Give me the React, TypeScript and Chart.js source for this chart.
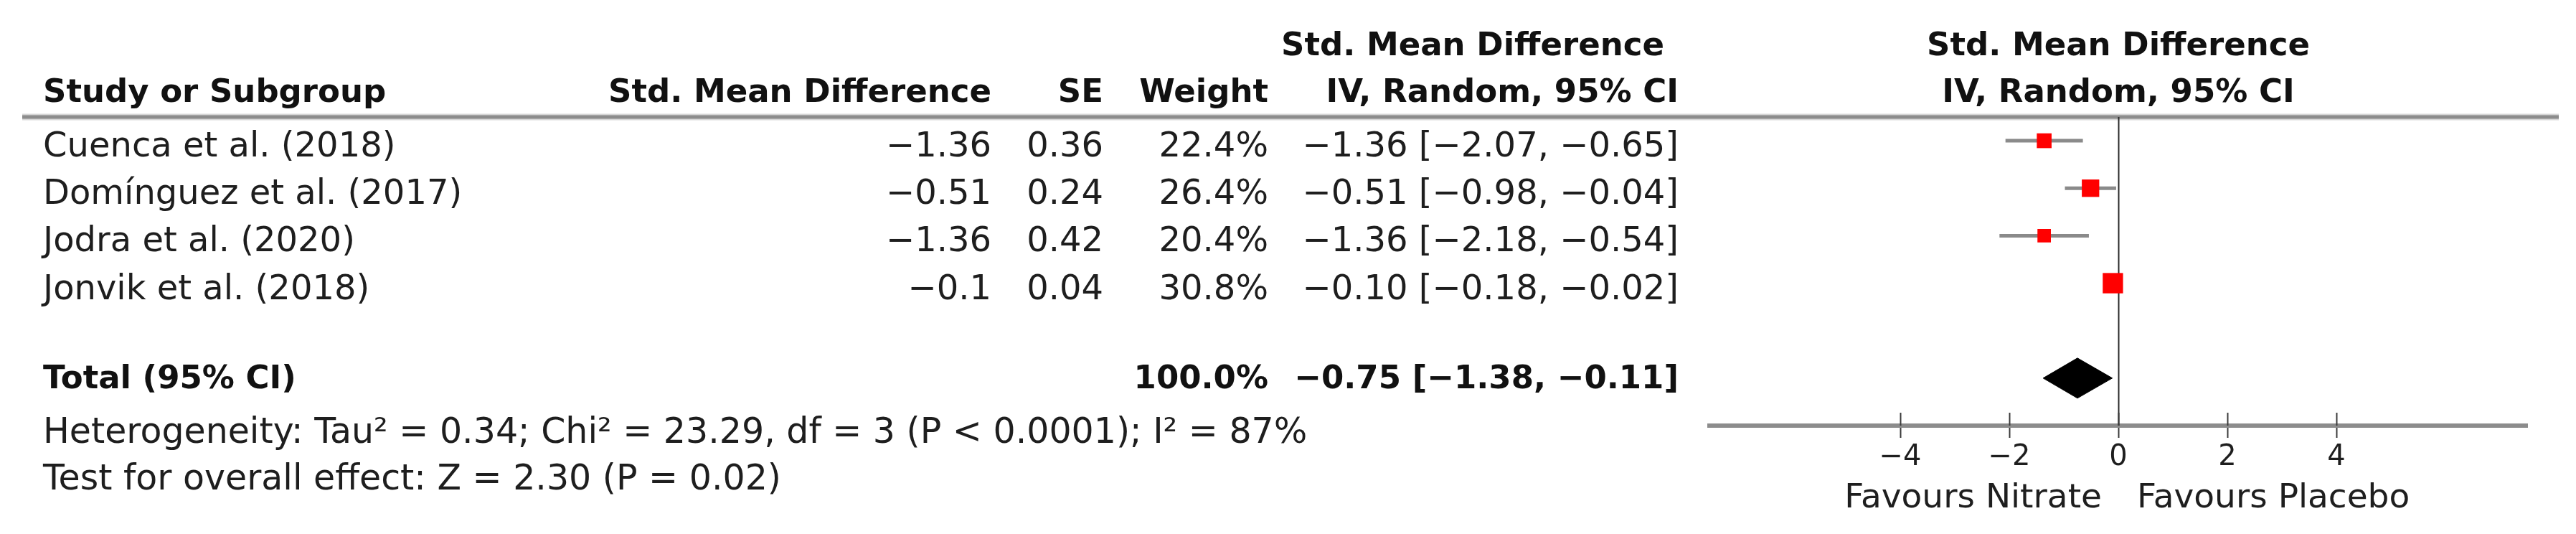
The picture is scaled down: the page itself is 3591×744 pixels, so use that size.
import { useEffect, useRef } from "react";
import { Chart, registerables } from "chart.js";

Chart.register(...registerables);

// ---------- data ----------
const studies = [
  "Cuenca et al. (2018)",
  "Domínguez et al. (2017)",
  "Jodra et al. (2020)",
  "Jonvik et al. (2018)",
];
const smd = [-1.36, -0.51, -1.36, -0.1];
const se = [0.36, 0.24, 0.42, 0.04];
const weights = [22.4, 26.4, 20.4, 30.8];
const ciLow = [-2.07, -0.98, -2.18, -0.18];
const ciHigh = [-0.65, -0.04, -0.54, -0.02];

const totalWeight = 100.0;
const totalEst = -0.75;
const totalLow = -1.38;
const totalHigh = -0.11;

const tau2 = "0.34";
const chi2 = "23.29";
const dfVal = "3";
const hetP = "< 0.0001";
const i2 = "87";
const zVal = "2.30";
const zP = "0.02";

const xTicks = [-4, -2, 0, 2, 4];
const xTickLabels = ["−4", "−2", "0", "2", "4"];

const leftLabel = "Favours Nitrate";
const rightLabel = "Favours Placebo";

// ---------- layout constants ----------
const W = 3575;
const H = 728;
const FONT = "'DejaVu Sans', Verdana, sans-serif";
const TOTAL_ROW = 5.5;
const DIAMOND_HALF = 0.423;

const num = (v: number, d?: number) =>
  (v < 0 ? "−" : "") + (d === undefined ? String(Math.abs(v)) : Math.abs(v).toFixed(d));

export default function App() {
  const ref = useRef<HTMLCanvasElement>(null);

  useEffect(() => {
    const canvas = ref.current;
    if (!canvas) return;

    const tablePlugin = {
      id: "forestTable",
      beforeDatasetsDraw(chart: any) {
        const { ctx, chartArea, scales } = chart;
        const x = scales.x;
        ctx.save();
        ctx.lineCap = "butt";
        // header rule
        ctx.strokeStyle = "#d6d6d6";
        ctx.lineWidth = 9;
        ctx.beginPath();
        ctx.moveTo(23, chartArea.top);
        ctx.lineTo(3559, chartArea.top);
        ctx.stroke();
        ctx.strokeStyle = "#8c8c8c";
        ctx.lineWidth = 5;
        ctx.beginPath();
        ctx.moveTo(23, chartArea.top);
        ctx.lineTo(3559, chartArea.top);
        ctx.stroke();
        // line of no effect
        const zx = Math.round(x.getPixelForValue(0)) + 0.5;
        ctx.strokeStyle = "#2a2a2a";
        ctx.lineWidth = 2;
        ctx.beginPath();
        ctx.moveTo(zx, chartArea.top);
        ctx.lineTo(zx, chartArea.bottom);
        ctx.stroke();
        ctx.restore();
      },
      afterDraw(chart: any) {
        const { ctx, chartArea, scales } = chart;
        const x = scales.x;
        const y = scales.y;
        ctx.save();
        // upper halves of tick marks
        ctx.strokeStyle = "#3a3a3a";
        ctx.lineWidth = 2;
        xTicks.forEach((v) => {
          const px = Math.round(x.getPixelForValue(v)) + 0.5;
          ctx.beginPath();
          ctx.moveTo(px, chartArea.bottom - 18);
          ctx.lineTo(px, chartArea.bottom);
          ctx.stroke();
        });

        const reg = `48px ${FONT}`;
        const foot = `49px ${FONT}`;
        const fav = `47px ${FONT}`;
        const bold = `bold 45px ${FONT}`;
        const put = (s: string, px: number, py: number, align: CanvasTextAlign, font: string, color = "#1e1e1e") => {
          ctx.font = font;
          ctx.textAlign = align;
          ctx.textBaseline = "alphabetic";
          ctx.fillStyle = color;
          ctx.fillText(s, px, py);
        };

        const zx = x.getPixelForValue(0);
        const L = 52;
        const cSMD = 1374;
        const cSE = 1530;
        const cW = 1760;
        const cCI = 2332;

        // headers
        put("Std. Mean Difference", 2312, 69, "right", bold, "#111");
        put("Std. Mean Difference", zx, 69, "center", bold, "#111");
        put("Study or Subgroup", L, 134, "left", bold, "#111");
        put("Std. Mean Difference", cSMD, 134, "right", bold, "#111");
        put("SE", cSE, 134, "right", bold, "#111");
        put("Weight", cW, 134, "right", bold, "#111");
        put("IV, Random, 95% CI", cCI, 134, "right", bold, "#111");
        put("IV, Random, 95% CI", zx, 134, "center", bold, "#111");

        // study rows
        studies.forEach((s, i) => {
          const by = y.getPixelForValue(i + 0.5) + 22;
          put(s, L, by, "left", reg);
          put(num(smd[i]), cSMD, by, "right", reg);
          put(num(se[i], 2), cSE, by, "right", reg);
          put(weights[i].toFixed(1) + "%", cW, by, "right", reg);
          put(`${num(smd[i], 2)} [${num(ciLow[i], 2)}, ${num(ciHigh[i], 2)}]`, cCI, by, "right", reg);
        });

        // total row
        const ty = y.getPixelForValue(TOTAL_ROW) + 14;
        put("Total (95% CI)", L, ty, "left", bold, "#111");
        put(totalWeight.toFixed(1) + "%", cW, ty, "right", bold, "#111");
        put(`${num(totalEst, 2)} [${num(totalLow, 2)}, ${num(totalHigh, 2)}]`, cCI, ty, "right", bold, "#111");

        // footnotes
        put(
          `Heterogeneity: Tau² = ${tau2}; Chi² = ${chi2}, df = ${dfVal} (P ${hetP}); I² = ${i2}%`,
          L,
          609,
          "left",
          foot
        );
        put(`Test for overall effect: Z = ${zVal} (P = ${zP})`, L, 674, "left", foot);

        // favours labels
        put(leftLabel, zx - 23, 699, "right", fav);
        put(rightLabel, zx + 26, 699, "left", fav);
        ctx.restore();
      },
    };

    const whiskerSets = studies.map((s, i) => ({
      type: "scatter" as const,
      label: s,
      data: [
        { x: ciLow[i], y: i + 0.5 },
        { x: ciHigh[i], y: i + 0.5 },
      ],
      showLine: true,
      borderColor: "#8a8a8a",
      borderWidth: 5,
      pointRadius: 0,
      order: 2,
    }));

    const chart = new Chart(canvas, {
      type: "scatter",
      data: {
        datasets: [
          {
            label: "Study estimates",
            data: studies.map((_, i) => ({ x: smd[i], y: i + 0.5 })),
            pointStyle: "rect",
            pointRadius: weights.map((w) => (w * 0.92) / Math.SQRT2),
            backgroundColor: "#ff0000",
            borderWidth: 0,
            order: 0,
          } as any,
          ...whiskerSets,
          {
            label: "Total",
            data: [
              { x: totalLow, y: TOTAL_ROW },
              { x: totalEst, y: TOTAL_ROW - DIAMOND_HALF },
              { x: totalHigh, y: TOTAL_ROW },
              { x: totalEst, y: TOTAL_ROW + DIAMOND_HALF },
              { x: totalLow, y: TOTAL_ROW },
            ],
            showLine: true,
            fill: "shape",
            backgroundColor: "#000000",
            borderColor: "#000000",
            borderWidth: 1,
            pointRadius: 0,
            tension: 0,
            order: 1,
          } as any,
        ],
      },
      options: {
        responsive: false,
        animation: false,
        devicePixelRatio: 1,
        layout: { padding: { left: 2375, right: 60, top: 155, bottom: 0 } },
        plugins: { legend: { display: false }, tooltip: { enabled: false } },
        events: [],
        scales: {
          x: {
            type: "linear",
            min: -7.5,
            max: 7.5,
            position: "bottom",
            afterBuildTicks: (s: any) => {
              s.ticks = xTicks.map((v) => ({ value: v }));
            },
            afterFit: (s: any) => {
              s.height = 143;
            },
            border: { display: true, color: "#8c8c8c", width: 6 },
            grid: {
              display: true,
              drawOnChartArea: false,
              drawTicks: true,
              tickLength: 17,
              tickColor: "#3a3a3a",
              tickWidth: 2,
            },
            ticks: {
              autoSkip: false,
              maxRotation: 0,
              padding: 8,
              color: "#1e1e1e",
              font: { family: FONT, size: 40, lineHeight: 1 },
              callback: (v: any) => {
                const k = xTicks.indexOf(Number(v));
                return k >= 0 ? xTickLabels[k] : "";
              },
            },
          },
          y: { type: "linear", min: 0, max: 6.5, reverse: true, display: false },
        },
      },
      plugins: [tablePlugin],
    });

    return () => chart.destroy();
  }, []);

  return (
    <div style={{ width: W, height: H }}>
      <canvas ref={ref} width={W} height={H} style={{ display: "block", width: W, height: H }} />
    </div>
  );
}
